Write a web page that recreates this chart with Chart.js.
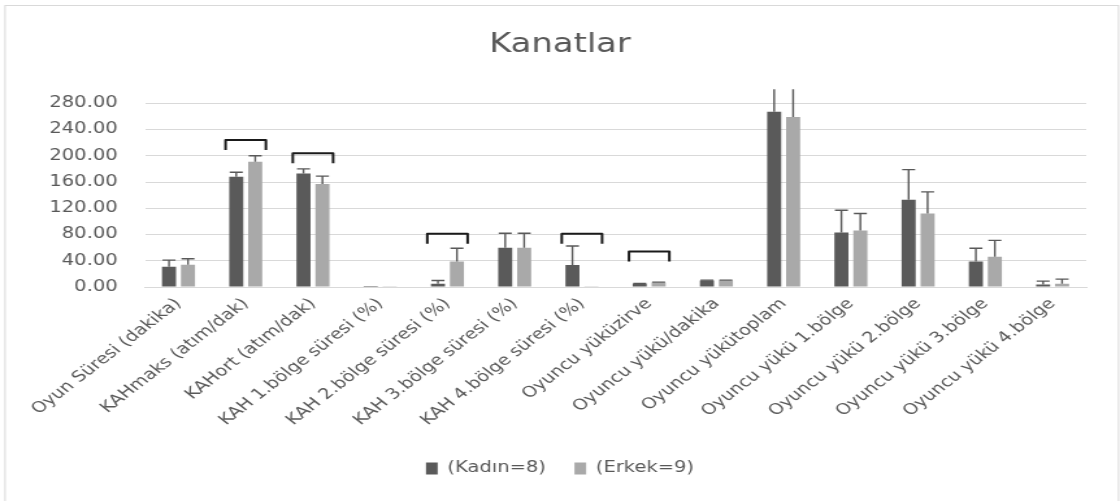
<!DOCTYPE html>
<html>
<head>
<meta charset="utf-8">
<script src="https://cdn.jsdelivr.net/npm/chart.js@4/dist/chart.umd.min.js"></script>
<style>
  html, body { margin: 0; padding: 0; background: #ffffff; overflow: hidden; }
  #wrap { position: absolute; left: 0; top: 0; width: 862px; height: 501px;
          transform: scaleX(1.2993); transform-origin: 0 0; }
</style>
</head>
<body>
<div id="wrap"><canvas id="c"></canvas></div>
<script>
// ---- data ----
const categories = [
  "Oyun Süresi (dakika)", "KAHmaks (atım/dak)", "KAHort (atım/dak)",
  "KAH 1.bölge süresi (%)", "KAH 2.bölge süresi (%)", "KAH 3.bölge süresi (%)",
  "KAH 4.bölge süresi (%)", "Oyuncu yüküzirve", "Oyuncu yükü/dakika",
  "Oyuncu yükütoplam", "Oyuncu yükü 1.bölge", "Oyuncu yükü 2.bölge",
  "Oyuncu yükü 3.bölge", "Oyuncu yükü 4.bölge"
];
const seriesNames = ["(Kadın=8)", "(Erkek=9)"];
const kadinValues = [31, 168, 173, 1.5, 5, 60, 33.5, 5, 10, 267, 83, 133, 39, 4];
const kadinErrors = [10, 7, 7, 0, 5, 22, 29, 0.5, 0.5, 45, 34, 46, 20, 5];
const erkekValues = [34, 191, 157, 1, 39, 60, 0.5, 7, 10, 259, 86, 112, 46, 5];
const erkekErrors = [9, 9, 12, 0, 20, 22, 0, 0.5, 0.5, 50, 26, 33, 25, 7];
const yTickValues = [0, 40, 80, 120, 160, 200, 240, 280];
const bracketCategories = ["KAHmaks (atım/dak)", "KAHort (atım/dak)",
  "KAH 2.bölge süresi (%)", "KAH 4.bölge süresi (%)", "Oyuncu yüküzirve"];
const bracketLevels = [224, 204, 81, 81, 54];
const titleText = "Kanatlar";

const errorSets = [kadinErrors, erkekErrors];
const valueSets = [kadinValues, erkekValues];
const textColor = "#595959";
const fontFamily = "'DejaVu Sans', sans-serif";

const frame = {
  id: "frame",
  beforeDraw(chart) {
    const ctx = chart.ctx;
    ctx.save();
    ctx.fillStyle = "#ffffff";
    ctx.fillRect(0, 0, chart.width, chart.height);
    ctx.strokeStyle = "#d9d9d9";
    ctx.lineWidth = 1;
    ctx.strokeRect(3.9, 5.5, chart.width - 5, chart.height + 20);
    ctx.restore();
  }
};

const errorBars = {
  id: "errorBars",
  afterDatasetsDraw(chart) {
    const ctx = chart.ctx;
    const ys = chart.scales.y;
    const a = chart.chartArea;
    ctx.save();
    ctx.beginPath();
    ctx.rect(a.left, a.top - 1, a.right - a.left, a.bottom - a.top + 1);
    ctx.clip();
    ctx.strokeStyle = "#595959";
    ctx.lineWidth = 1.4;
    for (let d = 0; d < 2; d++) {
      const meta = chart.getDatasetMeta(d);
      meta.data.forEach((bar, i) => {
        const err = errorSets[d][i];
        if (!err) return;
        const yTop = ys.getPixelForValue(valueSets[d][i] + err);
        ctx.beginPath();
        ctx.moveTo(bar.x, bar.y);
        ctx.lineTo(bar.x, yTop);
        ctx.moveTo(bar.x - 5, yTop);
        ctx.lineTo(bar.x + 5, yTop);
        ctx.stroke();
      });
    }
    ctx.restore();
  }
};

const brackets = {
  id: "brackets",
  afterDatasetsDraw(chart) {
    const ctx = chart.ctx;
    const xs = chart.scales.x, ys = chart.scales.y;
    const half = 0.3 * (xs.width / categories.length);
    ctx.save();
    ctx.strokeStyle = "#1a1a1a";
    ctx.lineWidth = 2;
    ctx.lineJoin = "round";
    bracketCategories.forEach((cat, k) => {
      const xc = xs.getPixelForValue(categories.indexOf(cat));
      const y = ys.getPixelForValue(bracketLevels[k]);
      ctx.beginPath();
      ctx.moveTo(xc - half, y + 10);
      ctx.lineTo(xc - half, y);
      ctx.lineTo(xc + half, y);
      ctx.lineTo(xc + half, y + 10);
      ctx.stroke();
    });
    ctx.restore();
  }
};

new Chart(document.getElementById("c"), {
  type: "bar",
  data: {
    labels: categories,
    datasets: [
      { label: seriesNames[0], data: kadinValues, backgroundColor: "#5a5a5a",
        categoryPercentage: 0.564, barPercentage: 0.74 },
      { label: seriesNames[1], data: erkekValues, backgroundColor: "#a9a9a9",
        categoryPercentage: 0.564, barPercentage: 0.74 }
    ]
  },
  options: {
    responsive: true,
    maintainAspectRatio: false,
    animation: false,
    layout: { padding: { left: 26, right: 26, top: 0, bottom: 15 } },
    plugins: {
      title: {
        display: true, text: titleText, color: textColor,
        font: { family: fontFamily, size: 26, weight: "normal" },
        padding: { top: 30, bottom: 29 }
      },
      legend: {
        position: "bottom",
        labels: {
          color: textColor, boxWidth: 9, boxHeight: 12, padding: 22,
          font: { family: fontFamily, size: 15 }
        }
      },
      tooltip: { enabled: false }
    },
    scales: {
      x: {
        grid: { display: false, drawTicks: false },
        border: { display: true, color: "#d9d9d9" },
        ticks: {
          color: textColor, autoSkip: false, minRotation: 45, maxRotation: 45,
          padding: 8, font: { family: fontFamily, size: 15 }
        },
        afterFit(scale) { scale.height = 152; }
      },
      y: {
        min: 0, max: 300,
        grid: { color: "#d9d9d9", drawTicks: false },
        border: { display: false },
        ticks: {
          color: textColor, stepSize: 40, padding: 21,
          font: { family: fontFamily, size: 15 },
          callback: (v) => Number(v).toFixed(2)
        },
        afterBuildTicks(scale) {
          scale.ticks = yTickValues.map(v => ({ value: v }));
        },
        afterFit(scale) { scale.width = 85.5; }
      }
    }
  },
  plugins: [frame, errorBars, brackets]
});
</script>
</body>
</html>
